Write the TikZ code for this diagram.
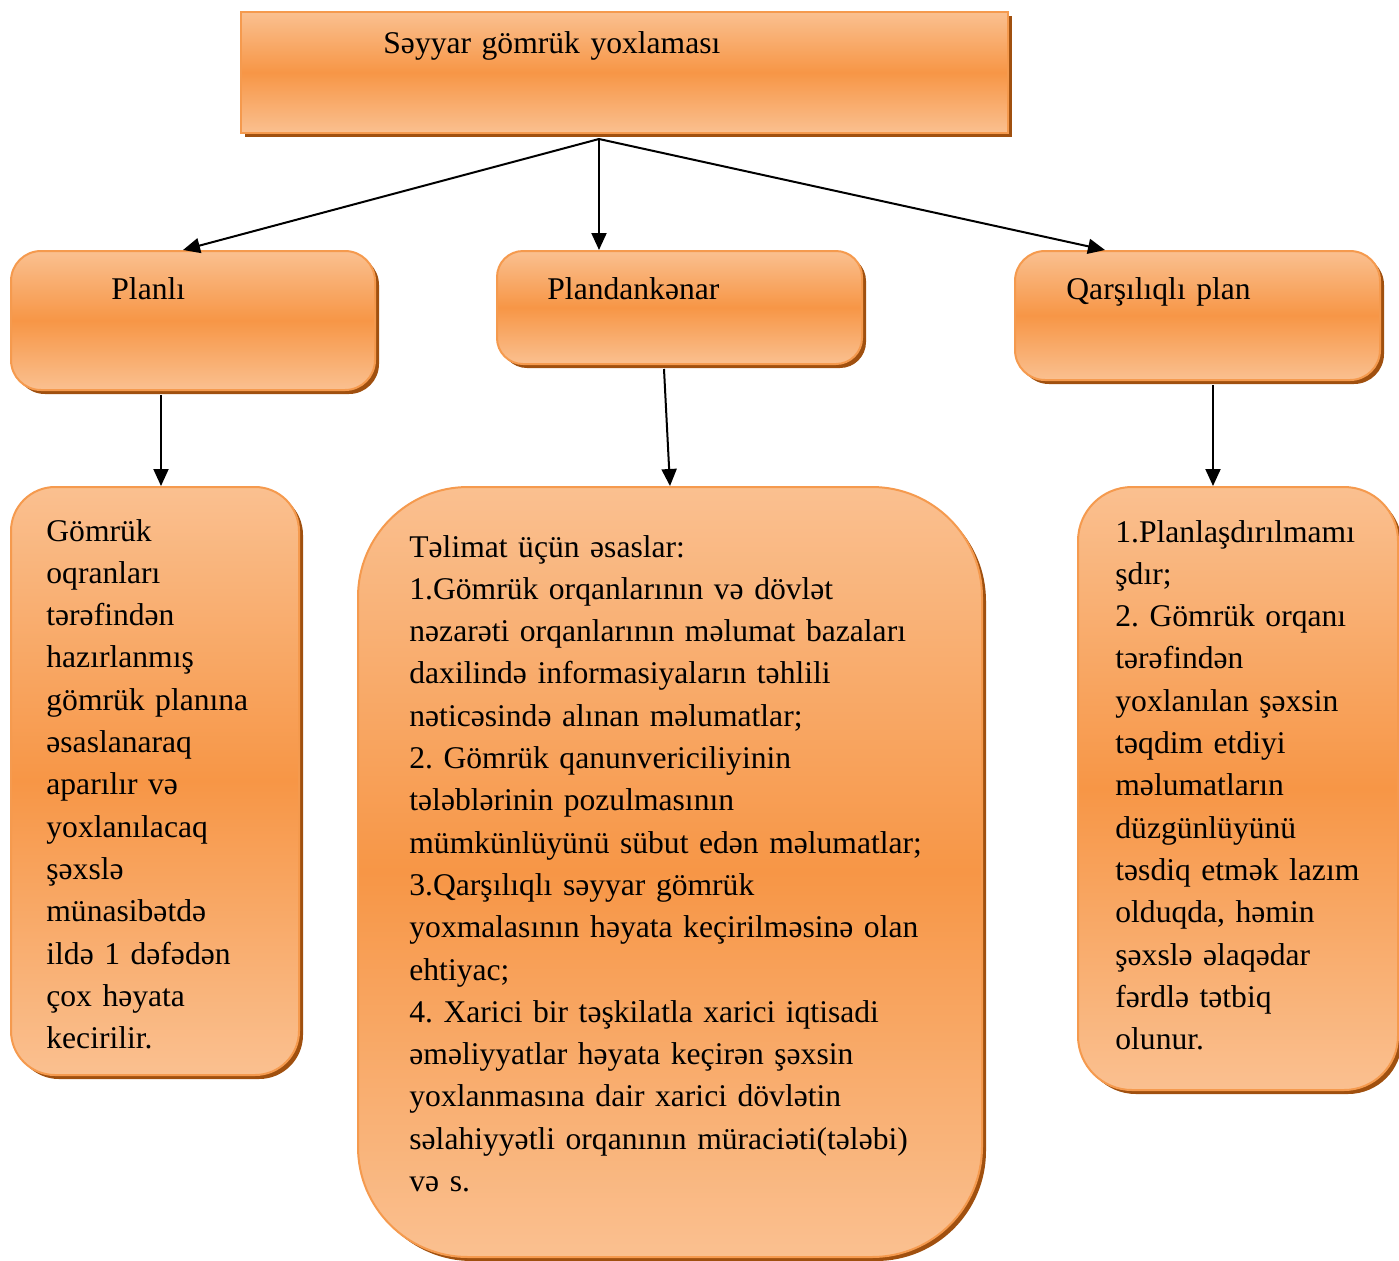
\documentclass[tikz,border=0pt]{standalone}
\usepackage{fontspec}
\setmainfont{Liberation Serif}
\usepackage{tikz}
\usetikzlibrary{shadows,arrows.meta}
\frenchspacing

\definecolor{peach}{HTML}{FAC090}
\definecolor{orangem}{HTML}{F79646}
\definecolor{boxline}{HTML}{F59A4E}
\definecolor{shadowc}{HTML}{A0500F}

\tikzset{
  box/.style={draw=boxline, line width=1pt, top color=peach, bottom color=peach,
    middle color=orangem, inner sep=0pt,
    drop shadow={shadow xshift=2pt, shadow yshift=-2pt, fill=shadowc, opacity=1}},
  txt/.style={anchor=base west, inner sep=0pt, align=left, text width=#1,
    font=\fontsize{15.8}{21.15}\selectfont},
  txt/.default=170pt,
  arr/.style={line width=1pt, -{Triangle[length=8.5pt,width=7.5pt]}}
}

\begin{document}
\begin{tikzpicture}[x=0.5pt, y=-0.5pt]
\useasboundingbox (0,0) rectangle (1399,1260);

% top row
\node[box, minimum width=383.5pt, minimum height=60.5pt] (main) at (624.5,72.5) {};
\node[txt=300pt] (maintext) at (383,53) {Səyyar gömrük yoxlaması};

\node[box, rounded corners=15pt, minimum width=182pt, minimum height=69.5pt] (planli) at (193,320.5) {};
\node[txt] (planlitext) at (111,299) {Planlı};

\node[box, rounded corners=13pt, minimum width=182.5pt, minimum height=56.5pt] (kenar) at (679.5,307.5) {};
\node[txt] (kenartext) at (547,299) {Plandankənar};

\node[box, rounded corners=15pt, minimum width=182.5pt, minimum height=64.5pt] (qarsi) at (1197.5,315.5) {};
\node[txt] (qarsitext) at (1066,299) {Qarşılıqlı plan};

% bottom row
\node[box, rounded corners=22pt, minimum width=144pt, minimum height=294pt] (lbox) at (155,781) {};
\node[txt=130pt] (ltext) at (46,541) {Gömrük\\ oqranları\\ tərəfindən\\ hazırlanmış\\ gömrük planına\\
  əsaslanaraq\\ aparılır və\\ yoxlanılacaq\\ şəxslə\\ münasibətdə\\ ildə 1 dəfədən\\ çox həyata\\ kecirilir.};

\node[box, rounded corners=55pt, minimum width=312pt, minimum height=385pt] (mbox) at (670,872) {};
\node[txt=300pt] (mtext) at (409,557) {Təlimat üçün əsaslar:\\
  1.Gömrük orqanlarının və dövlət\\ nəzarəti orqanlarının məlumat bazaları\\
  daxilində informasiyaların təhlili\\ nəticəsində alınan məlumatlar;\\
  2. Gömrük qanunvericiliyinin\\ tələblərinin pozulmasının\\
  mümkünlüyünü sübut edən məlumatlar;\\ 3.Qarşılıqlı səyyar gömrük\\
  yoxmalasının həyata keçirilməsinə olan\\ ehtiyac;\\
  4. Xarici bir təşkilatla xarici iqtisadi\\ əməliyyatlar həyata keçirən şəxsin\\
  yoxlanmasına dair xarici dövlətin\\ səlahiyyətli orqanının müraciəti(tələbi)\\ və s.};

\node[box, rounded corners=27pt, minimum width=160pt, minimum height=301.5pt] (rbox) at (1238,788.5) {};
\node[txt=150pt] (rtext) at (1115,542) {1.Planlaşdırılmamı\\ şdır;\\ 2. Gömrük orqanı\\ tərəfindən\\
  yoxlanılan şəxsin\\ təqdim etdiyi\\ məlumatların\\ düzgünlüyünü\\ təsdiq etmək lazım\\
  olduqda, həmin\\ şəxslə əlaqədar\\ fərdlə tətbiq\\ olunur.};

% connectors
\coordinate (fork) at ([xshift=-12.75pt,yshift=-2.5pt]main.south);
\draw[arr] (fork) -- ([xshift=-5pt]planli.north);
\draw[arr] (fork) -- ([xshift=-40.25pt]kenar.north);
\draw[arr] (fork) -- ([xshift=-46.25pt]qarsi.north);

\draw[arr] ([xshift=-16pt,yshift=-2pt]planli.south) -- ([xshift=3pt]lbox.north);
\draw[arr] ([xshift=-7.75pt,yshift=-2pt]kenar.south) -- (mbox.north);
\draw[arr] ([xshift=7.75pt,yshift=-2pt]qarsi.south) -- ([xshift=-12.5pt]rbox.north);
\end{tikzpicture}
\end{document}
